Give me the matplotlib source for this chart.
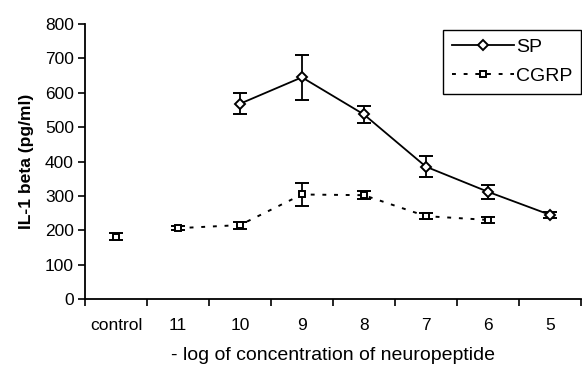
import matplotlib
matplotlib.use("Agg")
import matplotlib.pyplot as plt
from matplotlib.lines import Line2D
import numpy as np

plt.rcParams['font.family'] = ['Liberation Sans', 'DejaVu Sans']

categories = ["control", "11", "10", "9", "8", "7", "6", "5"]

control_mean = [181]
control_err = [10]

sp_idx = [2, 3, 4, 5, 6, 7]
sp_mean = [568, 645, 537, 385, 312, 245]
sp_err = [30, 65, 25, 30, 20, 8]

cgrp_idx = [1, 2, 3, 4, 5, 6]
cgrp_mean = [206, 215, 304, 302, 241, 230]
cgrp_err = [5, 10, 33, 12, 8, 8]

yticks = [0, 100, 200, 300, 400, 500, 600, 700, 800]

fig = plt.figure(figsize=(5.82, 3.70), dpi=100)
ax = fig.add_axes([0.146, 0.192, 0.852, 0.743])

dotted = (0, (2, 4))

ax.errorbar(sp_idx, sp_mean, yerr=sp_err, color='black', lw=1.3,
            marker='D', ms=4.8, mfc='white', mec='black', mew=1.4,
            capsize=5, capthick=1.3, elinewidth=1.3)
ax.errorbar(cgrp_idx, cgrp_mean, yerr=cgrp_err, color='black', lw=1.4,
            linestyle=dotted,
            marker='s', ms=5, mfc='white', mec='black', mew=1.4,
            capsize=5, capthick=1.3, elinewidth=1.3)
ax.errorbar([0], control_mean, yerr=control_err, color='black', lw=0,
            marker='s', ms=5, mfc='white', mec='black', mew=1.4,
            capsize=5, capthick=1.3, elinewidth=1.3)

ax.set_xlim(-0.5, 7.5)
ax.set_ylim(0, 800)
ax.set_yticks(yticks)
ax.set_xticks(range(len(categories)))
ax.set_xticklabels(categories)
ax.set_xticks(np.arange(-0.5, 8, 1), minor=True)
ax.tick_params(axis='x', which='major', length=0, pad=14, labelsize=12.5)
ax.tick_params(axis='x', which='minor', length=5, width=1.2, direction='out')
ax.tick_params(axis='y', length=5, width=1.2, direction='out', labelsize=12.5, pad=3)

for s in ['top', 'right']:
    ax.spines[s].set_visible(False)
for s in ['left', 'bottom']:
    ax.spines[s].set_linewidth(1.3)

ax.set_ylabel("IL-1 beta (pg/ml)", fontsize=12.6, fontweight='bold', labelpad=8)
ax.set_xlabel("- log of concentration of neuropeptide", fontsize=14, labelpad=10)

handles = [
    Line2D([], [], color='black', lw=1.3, marker='D', ms=4.8, mfc='white',
           mec='black', mew=1.4),
    Line2D([], [], color='black', lw=1.4, linestyle=dotted, marker='s', ms=5,
           mfc='white', mec='black', mew=1.4),
]
leg = ax.legend(handles, ['SP', 'CGRP'], loc='upper right',
                bbox_to_anchor=(1.0, 0.98), fontsize=14,
                frameon=True, fancybox=False, edgecolor='black', framealpha=1,
                handlelength=3.2, handletextpad=0.1, borderpad=0.45,
                labelspacing=0.6, borderaxespad=0.0)
leg.get_frame().set_linewidth(1.0)

fig.savefig("out.png", dpi=100)
